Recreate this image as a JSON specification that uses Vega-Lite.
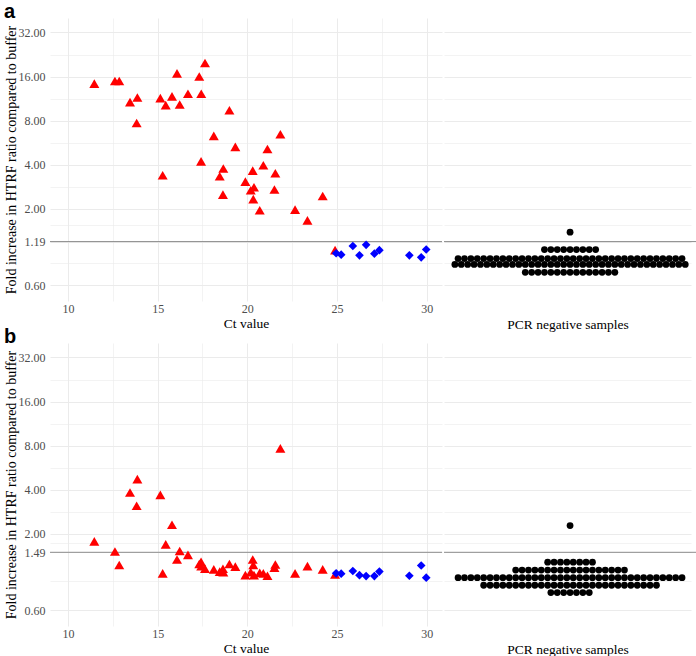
{
  "$schema": "https://vega.github.io/schema/vega-lite/v6.json",
  "padding": {"left": 3, "top": 2, "right": 0, "bottom": 0},
  "background": "white",
  "config": {
    "view": {"stroke": null},
    "axis": {
      "ticks": false, "tickSize": 0, "domain": false,
      "gridColor": "#EBEBEB",
      "labelFont": "Liberation Serif", "labelFontSize": 12, "labelColor": "#4D4D4D",
      "titleFont": "Liberation Serif", "titleFontSize": 13.5, "titleFontWeight": "normal", "titleColor": "#000000",
      "labelOverlap": false
    },
    "title": {"font": "Liberation Sans", "fontSize": 20, "fontWeight": "bold", "color": "#000000", "anchor": "start", "frame": "bounds"}
  },
  "datasets": {
    "thr": [{"panel": "a", "fold": 1.19}, {"panel": "b", "fold": 1.49}],
    "pos": [
      {"panel": "a", "ct": 11.47, "fold": 14.3, "group": "Ct < 25"},
      {"panel": "a", "ct": 12.62, "fold": 14.9, "group": "Ct < 25"},
      {"panel": "a", "ct": 12.86, "fold": 14.9, "group": "Ct < 25"},
      {"panel": "a", "ct": 13.46, "fold": 10.7, "group": "Ct < 25"},
      {"panel": "a", "ct": 13.87, "fold": 11.5, "group": "Ct < 25"},
      {"panel": "a", "ct": 13.83, "fold": 7.7, "group": "Ct < 25"},
      {"panel": "a", "ct": 15.15, "fold": 11.4, "group": "Ct < 25"},
      {"panel": "a", "ct": 15.28, "fold": 3.38, "group": "Ct < 25"},
      {"panel": "a", "ct": 15.45, "fold": 10.2, "group": "Ct < 25"},
      {"panel": "a", "ct": 15.8, "fold": 11.7, "group": "Ct < 25"},
      {"panel": "a", "ct": 16.08, "fold": 16.8, "group": "Ct < 25"},
      {"panel": "a", "ct": 16.23, "fold": 10.3, "group": "Ct < 25"},
      {"panel": "a", "ct": 16.69, "fold": 12.2, "group": "Ct < 25"},
      {"panel": "a", "ct": 17.32, "fold": 16.0, "group": "Ct < 25"},
      {"panel": "a", "ct": 17.42, "fold": 4.21, "group": "Ct < 25"},
      {"panel": "a", "ct": 17.43, "fold": 12.2, "group": "Ct < 25"},
      {"panel": "a", "ct": 17.64, "fold": 19.8, "group": "Ct < 25"},
      {"panel": "a", "ct": 18.13, "fold": 6.28, "group": "Ct < 25"},
      {"panel": "a", "ct": 18.46, "fold": 3.33, "group": "Ct < 25"},
      {"panel": "a", "ct": 18.64, "fold": 2.49, "group": "Ct < 25"},
      {"panel": "a", "ct": 18.66, "fold": 3.76, "group": "Ct < 25"},
      {"panel": "a", "ct": 19.0, "fold": 9.41, "group": "Ct < 25"},
      {"panel": "a", "ct": 19.33, "fold": 5.28, "group": "Ct < 25"},
      {"panel": "a", "ct": 19.89, "fold": 3.06, "group": "Ct < 25"},
      {"panel": "a", "ct": 20.19, "fold": 2.67, "group": "Ct < 25"},
      {"panel": "a", "ct": 20.3, "fold": 3.64, "group": "Ct < 25"},
      {"panel": "a", "ct": 20.33, "fold": 2.32, "group": "Ct < 25"},
      {"panel": "a", "ct": 20.37, "fold": 2.8, "group": "Ct < 25"},
      {"panel": "a", "ct": 20.69, "fold": 1.95, "group": "Ct < 25"},
      {"panel": "a", "ct": 20.89, "fold": 3.96, "group": "Ct < 25"},
      {"panel": "a", "ct": 21.12, "fold": 5.11, "group": "Ct < 25"},
      {"panel": "a", "ct": 21.51, "fold": 2.7, "group": "Ct < 25"},
      {"panel": "a", "ct": 21.56, "fold": 3.49, "group": "Ct < 25"},
      {"panel": "a", "ct": 21.84, "fold": 6.45, "group": "Ct < 25"},
      {"panel": "a", "ct": 22.66, "fold": 1.97, "group": "Ct < 25"},
      {"panel": "a", "ct": 23.35, "fold": 1.66, "group": "Ct < 25"},
      {"panel": "a", "ct": 24.2, "fold": 2.44, "group": "Ct < 25"},
      {"panel": "a", "ct": 24.89, "fold": 1.04, "group": "Ct < 25"},
      {"panel": "a", "ct": 24.95, "fold": 0.99, "group": "Ct ≥ 25"},
      {"panel": "a", "ct": 25.23, "fold": 0.969, "group": "Ct ≥ 25"},
      {"panel": "a", "ct": 25.88, "fold": 1.11, "group": "Ct ≥ 25"},
      {"panel": "a", "ct": 26.25, "fold": 0.958, "group": "Ct ≥ 25"},
      {"panel": "a", "ct": 26.62, "fold": 1.13, "group": "Ct ≥ 25"},
      {"panel": "a", "ct": 27.08, "fold": 0.984, "group": "Ct ≥ 25"},
      {"panel": "a", "ct": 27.36, "fold": 1.04, "group": "Ct ≥ 25"},
      {"panel": "a", "ct": 29.03, "fold": 0.958, "group": "Ct ≥ 25"},
      {"panel": "a", "ct": 29.69, "fold": 0.929, "group": "Ct ≥ 25"},
      {"panel": "a", "ct": 29.97, "fold": 1.05, "group": "Ct ≥ 25"},
      {"panel": "b", "ct": 11.47, "fold": 1.77, "group": "Ct < 25"},
      {"panel": "b", "ct": 12.62, "fold": 1.51, "group": "Ct < 25"},
      {"panel": "b", "ct": 12.86, "fold": 1.22, "group": "Ct < 25"},
      {"panel": "b", "ct": 13.46, "fold": 3.82, "group": "Ct < 25"},
      {"panel": "b", "ct": 13.87, "fold": 4.71, "group": "Ct < 25"},
      {"panel": "b", "ct": 13.83, "fold": 3.1, "group": "Ct < 25"},
      {"panel": "b", "ct": 15.15, "fold": 3.68, "group": "Ct < 25"},
      {"panel": "b", "ct": 15.28, "fold": 1.07, "group": "Ct < 25"},
      {"panel": "b", "ct": 15.45, "fold": 1.69, "group": "Ct < 25"},
      {"panel": "b", "ct": 15.8, "fold": 2.3, "group": "Ct < 25"},
      {"panel": "b", "ct": 16.08, "fold": 1.33, "group": "Ct < 25"},
      {"panel": "b", "ct": 16.23, "fold": 1.52, "group": "Ct < 25"},
      {"panel": "b", "ct": 16.69, "fold": 1.43, "group": "Ct < 25"},
      {"panel": "b", "ct": 17.32, "fold": 1.24, "group": "Ct < 25"},
      {"panel": "b", "ct": 17.42, "fold": 1.28, "group": "Ct < 25"},
      {"panel": "b", "ct": 17.43, "fold": 1.2, "group": "Ct < 25"},
      {"panel": "b", "ct": 17.64, "fold": 1.15, "group": "Ct < 25"},
      {"panel": "b", "ct": 18.13, "fold": 1.14, "group": "Ct < 25"},
      {"panel": "b", "ct": 18.46, "fold": 1.1, "group": "Ct < 25"},
      {"panel": "b", "ct": 18.64, "fold": 1.15, "group": "Ct < 25"},
      {"panel": "b", "ct": 18.66, "fold": 1.09, "group": "Ct < 25"},
      {"panel": "b", "ct": 19.0, "fold": 1.24, "group": "Ct < 25"},
      {"panel": "b", "ct": 19.33, "fold": 1.19, "group": "Ct < 25"},
      {"panel": "b", "ct": 19.89, "fold": 1.04, "group": "Ct < 25"},
      {"panel": "b", "ct": 20.19, "fold": 1.09, "group": "Ct < 25"},
      {"panel": "b", "ct": 20.3, "fold": 1.33, "group": "Ct < 25"},
      {"panel": "b", "ct": 20.33, "fold": 1.22, "group": "Ct < 25"},
      {"panel": "b", "ct": 20.37, "fold": 1.04, "group": "Ct < 25"},
      {"panel": "b", "ct": 20.69, "fold": 1.08, "group": "Ct < 25"},
      {"panel": "b", "ct": 20.89, "fold": 1.07, "group": "Ct < 25"},
      {"panel": "b", "ct": 21.12, "fold": 1.03, "group": "Ct < 25"},
      {"panel": "b", "ct": 21.51, "fold": 1.17, "group": "Ct < 25"},
      {"panel": "b", "ct": 21.56, "fold": 1.23, "group": "Ct < 25"},
      {"panel": "b", "ct": 21.84, "fold": 7.65, "group": "Ct < 25"},
      {"panel": "b", "ct": 22.66, "fold": 1.07, "group": "Ct < 25"},
      {"panel": "b", "ct": 23.35, "fold": 1.2, "group": "Ct < 25"},
      {"panel": "b", "ct": 24.2, "fold": 1.14, "group": "Ct < 25"},
      {"panel": "b", "ct": 24.89, "fold": 1.05, "group": "Ct < 25"},
      {"panel": "b", "ct": 24.95, "fold": 1.07, "group": "Ct ≥ 25"},
      {"panel": "b", "ct": 25.23, "fold": 1.065, "group": "Ct ≥ 25"},
      {"panel": "b", "ct": 25.88, "fold": 1.11, "group": "Ct ≥ 25"},
      {"panel": "b", "ct": 26.25, "fold": 1.04, "group": "Ct ≥ 25"},
      {"panel": "b", "ct": 26.62, "fold": 1.025, "group": "Ct ≥ 25"},
      {"panel": "b", "ct": 27.08, "fold": 1.025, "group": "Ct ≥ 25"},
      {"panel": "b", "ct": 27.36, "fold": 1.1, "group": "Ct ≥ 25"},
      {"panel": "b", "ct": 29.03, "fold": 1.03, "group": "Ct ≥ 25"},
      {"panel": "b", "ct": 29.69, "fold": 1.21, "group": "Ct ≥ 25"},
      {"panel": "b", "ct": 29.97, "fold": 1.0, "group": "Ct ≥ 25"}
    ],
    "neg": [
      {"panel": "a", "fold": 1.38},
      {"panel": "a", "fold": 1.05}, {"panel": "a", "fold": 1.05}, {"panel": "a", "fold": 1.05}, {"panel": "a", "fold": 1.05}, {"panel": "a", "fold": 1.05}, {"panel": "a", "fold": 1.05}, {"panel": "a", "fold": 1.05}, {"panel": "a", "fold": 1.05}, {"panel": "a", "fold": 1.05},
      {"panel": "a", "fold": 0.91}, {"panel": "a", "fold": 0.91}, {"panel": "a", "fold": 0.91}, {"panel": "a", "fold": 0.91}, {"panel": "a", "fold": 0.91}, {"panel": "a", "fold": 0.91}, {"panel": "a", "fold": 0.91}, {"panel": "a", "fold": 0.91}, {"panel": "a", "fold": 0.91}, {"panel": "a", "fold": 0.91},
      {"panel": "a", "fold": 0.91}, {"panel": "a", "fold": 0.91}, {"panel": "a", "fold": 0.91}, {"panel": "a", "fold": 0.91}, {"panel": "a", "fold": 0.91}, {"panel": "a", "fold": 0.91}, {"panel": "a", "fold": 0.91}, {"panel": "a", "fold": 0.91}, {"panel": "a", "fold": 0.91}, {"panel": "a", "fold": 0.91},
      {"panel": "a", "fold": 0.91}, {"panel": "a", "fold": 0.91}, {"panel": "a", "fold": 0.91}, {"panel": "a", "fold": 0.91}, {"panel": "a", "fold": 0.91}, {"panel": "a", "fold": 0.91}, {"panel": "a", "fold": 0.91}, {"panel": "a", "fold": 0.91}, {"panel": "a", "fold": 0.91}, {"panel": "a", "fold": 0.91},
      {"panel": "a", "fold": 0.91}, {"panel": "a", "fold": 0.91}, {"panel": "a", "fold": 0.91}, {"panel": "a", "fold": 0.91}, {"panel": "a", "fold": 0.91}, {"panel": "a", "fold": 0.91},
      {"panel": "a", "fold": 0.83}, {"panel": "a", "fold": 0.83}, {"panel": "a", "fold": 0.83}, {"panel": "a", "fold": 0.83}, {"panel": "a", "fold": 0.83}, {"panel": "a", "fold": 0.83}, {"panel": "a", "fold": 0.83}, {"panel": "a", "fold": 0.83}, {"panel": "a", "fold": 0.83}, {"panel": "a", "fold": 0.83},
      {"panel": "a", "fold": 0.83}, {"panel": "a", "fold": 0.83}, {"panel": "a", "fold": 0.83}, {"panel": "a", "fold": 0.83}, {"panel": "a", "fold": 0.83}, {"panel": "a", "fold": 0.83}, {"panel": "a", "fold": 0.83}, {"panel": "a", "fold": 0.83}, {"panel": "a", "fold": 0.83}, {"panel": "a", "fold": 0.83},
      {"panel": "a", "fold": 0.83}, {"panel": "a", "fold": 0.83}, {"panel": "a", "fold": 0.83}, {"panel": "a", "fold": 0.83}, {"panel": "a", "fold": 0.83}, {"panel": "a", "fold": 0.83}, {"panel": "a", "fold": 0.83}, {"panel": "a", "fold": 0.83}, {"panel": "a", "fold": 0.83}, {"panel": "a", "fold": 0.83},
      {"panel": "a", "fold": 0.83}, {"panel": "a", "fold": 0.83}, {"panel": "a", "fold": 0.83}, {"panel": "a", "fold": 0.83}, {"panel": "a", "fold": 0.83}, {"panel": "a", "fold": 0.83}, {"panel": "a", "fold": 0.83},
      {"panel": "a", "fold": 0.733}, {"panel": "a", "fold": 0.733}, {"panel": "a", "fold": 0.733}, {"panel": "a", "fold": 0.733}, {"panel": "a", "fold": 0.733}, {"panel": "a", "fold": 0.733}, {"panel": "a", "fold": 0.733}, {"panel": "a", "fold": 0.733}, {"panel": "a", "fold": 0.733}, {"panel": "a", "fold": 0.733},
      {"panel": "a", "fold": 0.733}, {"panel": "a", "fold": 0.733}, {"panel": "a", "fold": 0.733}, {"panel": "a", "fold": 0.733}, {"panel": "a", "fold": 0.733},
      {"panel": "b", "fold": 2.27},
      {"panel": "b", "fold": 1.276}, {"panel": "b", "fold": 1.276}, {"panel": "b", "fold": 1.276}, {"panel": "b", "fold": 1.276}, {"panel": "b", "fold": 1.276}, {"panel": "b", "fold": 1.276}, {"panel": "b", "fold": 1.276}, {"panel": "b", "fold": 1.276},
      {"panel": "b", "fold": 1.126}, {"panel": "b", "fold": 1.126}, {"panel": "b", "fold": 1.126}, {"panel": "b", "fold": 1.126}, {"panel": "b", "fold": 1.126}, {"panel": "b", "fold": 1.126}, {"panel": "b", "fold": 1.126}, {"panel": "b", "fold": 1.126}, {"panel": "b", "fold": 1.126}, {"panel": "b", "fold": 1.126},
      {"panel": "b", "fold": 1.126}, {"panel": "b", "fold": 1.126}, {"panel": "b", "fold": 1.126}, {"panel": "b", "fold": 1.126}, {"panel": "b", "fold": 1.126}, {"panel": "b", "fold": 1.126}, {"panel": "b", "fold": 1.126}, {"panel": "b", "fold": 1.126},
      {"panel": "b", "fold": 1.0}, {"panel": "b", "fold": 1.0}, {"panel": "b", "fold": 1.0}, {"panel": "b", "fold": 1.0}, {"panel": "b", "fold": 1.0}, {"panel": "b", "fold": 1.0}, {"panel": "b", "fold": 1.0}, {"panel": "b", "fold": 1.0}, {"panel": "b", "fold": 1.0}, {"panel": "b", "fold": 1.0},
      {"panel": "b", "fold": 1.0}, {"panel": "b", "fold": 1.0}, {"panel": "b", "fold": 1.0}, {"panel": "b", "fold": 1.0}, {"panel": "b", "fold": 1.0}, {"panel": "b", "fold": 1.0}, {"panel": "b", "fold": 1.0}, {"panel": "b", "fold": 1.0}, {"panel": "b", "fold": 1.0}, {"panel": "b", "fold": 1.0},
      {"panel": "b", "fold": 1.0}, {"panel": "b", "fold": 1.0}, {"panel": "b", "fold": 1.0}, {"panel": "b", "fold": 1.0}, {"panel": "b", "fold": 1.0}, {"panel": "b", "fold": 1.0}, {"panel": "b", "fold": 1.0}, {"panel": "b", "fold": 1.0}, {"panel": "b", "fold": 1.0}, {"panel": "b", "fold": 1.0},
      {"panel": "b", "fold": 1.0}, {"panel": "b", "fold": 1.0}, {"panel": "b", "fold": 1.0}, {"panel": "b", "fold": 1.0}, {"panel": "b", "fold": 1.0}, {"panel": "b", "fold": 1.0},
      {"panel": "b", "fold": 0.887}, {"panel": "b", "fold": 0.887}, {"panel": "b", "fold": 0.887}, {"panel": "b", "fold": 0.887}, {"panel": "b", "fold": 0.887}, {"panel": "b", "fold": 0.887}, {"panel": "b", "fold": 0.887}, {"panel": "b", "fold": 0.887}, {"panel": "b", "fold": 0.887}, {"panel": "b", "fold": 0.887},
      {"panel": "b", "fold": 0.887}, {"panel": "b", "fold": 0.887}, {"panel": "b", "fold": 0.887}, {"panel": "b", "fold": 0.887}, {"panel": "b", "fold": 0.887}, {"panel": "b", "fold": 0.887}, {"panel": "b", "fold": 0.887}, {"panel": "b", "fold": 0.887}, {"panel": "b", "fold": 0.887}, {"panel": "b", "fold": 0.887},
      {"panel": "b", "fold": 0.887}, {"panel": "b", "fold": 0.887}, {"panel": "b", "fold": 0.887}, {"panel": "b", "fold": 0.887}, {"panel": "b", "fold": 0.887}, {"panel": "b", "fold": 0.887}, {"panel": "b", "fold": 0.887}, {"panel": "b", "fold": 0.887},
      {"panel": "b", "fold": 0.79}, {"panel": "b", "fold": 0.79}, {"panel": "b", "fold": 0.79}, {"panel": "b", "fold": 0.79}, {"panel": "b", "fold": 0.79}, {"panel": "b", "fold": 0.79}, {"panel": "b", "fold": 0.79}
    ]
  },
  "vconcat": [
    {
      "title": {"text": "a", "offset": -20, "baseline": "alphabetic"},
      "spacing": 0,
      "hconcat": [
        {
          "width": 392, "height": 283,
          "encoding": {
            "y": {"field": "fold", "type": "quantitative",
              "scale": {"type": "log", "base": 2, "domain": [0.467, 40.2], "nice": false},
              "axis": {"title": "Fold increase in HTRF ratio compared to buffer", "titleFontSize": 14,
                "values": [0.6, 0.845, 1.19, 1.543, 2, 2.828, 4, 5.657, 8, 11.314, 16, 22.627, 32],
                "labelExpr": "indexof([0.6,1.19,2,4,8,16,32], datum.value) >= 0 ? format(datum.value, '.2f') : ''",
                "gridWidth": {"condition": {"test": "indexof([0.6,1.19,2,4,8,16,32], datum.value) >= 0", "value": 1}, "value": 0.6},
                "labelPadding": 5, "titlePadding": 0}}
          },
          "layer": [
            {"data": {"name": "thr"}, "transform": [{"filter": "datum.panel === 'a'"}],
             "mark": {"type": "rule", "color": "#8C8C8C", "strokeWidth": 1}, "encoding": {}},
            {"data": {"name": "pos"}, "transform": [{"filter": "datum.panel === 'a'"}],
             "mark": {"type": "point", "filled": true, "opacity": 1, "strokeWidth": 0},
             "encoding": {
               "x": {"field": "ct", "type": "quantitative",
                 "scale": {"domain": [9.0, 30.85], "nice": false, "zero": false},
                 "axis": {"title": "Ct value", "values": [10, 12.5, 15, 17.5, 20, 22.5, 25, 27.5, 30],
                   "labelExpr": "datum.value % 5 === 0 ? format(datum.value, 'd') : ''",
                   "gridWidth": {"condition": {"test": "datum.value % 5 === 0", "value": 1}, "value": 0.6},
                   "labelPadding": 2, "titlePadding": 2}},
               "shape": {"field": "group", "type": "nominal", "scale": {"domain": ["Ct < 25", "Ct ≥ 25"], "range": ["triangle-up", "diamond"]}, "legend": null},
               "color": {"field": "group", "type": "nominal", "scale": {"domain": ["Ct < 25", "Ct ≥ 25"], "range": ["#FF0000", "#0000FF"]}, "legend": null},
               "size": {"field": "group", "type": "nominal", "scale": {"domain": ["Ct < 25", "Ct ≥ 25"], "range": [100, 75]}, "legend": null}
             }}
          ]
        },
        {
          "width": 247, "height": 283,
          "encoding": {
            "y": {"field": "fold", "type": "quantitative",
              "scale": {"type": "log", "base": 2, "domain": [0.467, 40.2], "nice": false},
              "axis": {"title": null, "labels": false,
                "values": [0.6, 0.845, 1.19, 1.543, 2, 2.828, 4, 5.657, 8, 11.314, 16, 22.627, 32],
                "gridWidth": {"condition": {"test": "indexof([0.6,1.19,2,4,8,16,32], datum.value) >= 0", "value": 1}, "value": 0.6}}}
          },
          "layer": [
            {"data": {"name": "thr"}, "transform": [{"filter": "datum.panel === 'a'"}],
             "mark": {"type": "rule", "color": "#8C8C8C", "strokeWidth": 1, "clip": false},
             "encoding": {"x": {"datum": -19.7}, "x2": {"datum": 20.0}}},
            {"data": {"name": "neg"},
             "transform": [
               {"filter": "datum.panel === 'a'"},
               {"joinaggregate": [{"op": "count", "as": "n"}], "groupby": ["fold"]},
               {"window": [{"op": "row_number", "as": "k"}], "groupby": ["fold"]},
               {"calculate": "datum.k - (datum.n + 1) / 2", "as": "slot"}
             ],
             "mark": {"type": "circle", "color": "#000000", "opacity": 1, "size": 46},
             "encoding": {
               "x": {"field": "slot", "type": "quantitative",
                 "scale": {"domain": [-19.7, 18.9], "nice": false, "zero": false},
                 "axis": {"title": "PCR negative samples", "values": [0], "labels": false, "gridWidth": 1, "titlePadding": 16}}
             }},
            {"mark": {"type": "rule", "color": "#000000", "strokeWidth": 1.3, "clip": false},
             "encoding": {"x": {"datum": -19.7}, "y": {"datum": 0.33}, "y2": {"datum": 40.2}}}
          ]
        }
      ]
    },
    {
      "title": {"text": "b", "offset": -20, "baseline": "alphabetic"},
      "spacing": 0,
      "hconcat": [
        {
          "width": 392, "height": 283,
          "encoding": {
            "y": {"field": "fold", "type": "quantitative",
              "scale": {"type": "log", "base": 2, "domain": [0.467, 40.2], "nice": false},
              "axis": {"title": "Fold increase in HTRF ratio compared to buffer", "titleFontSize": 14,
                "values": [0.6, 0.9455, 1.49, 1.726, 2, 2.828, 4, 5.657, 8, 11.314, 16, 22.627, 32],
                "labelExpr": "indexof([0.6,1.49,2,4,8,16,32], datum.value) >= 0 ? format(datum.value, '.2f') : ''",
                "gridWidth": {"condition": {"test": "indexof([0.6,1.49,2,4,8,16,32], datum.value) >= 0", "value": 1}, "value": 0.6},
                "labelPadding": 5, "titlePadding": 0}}
          },
          "layer": [
            {"data": {"name": "thr"}, "transform": [{"filter": "datum.panel === 'b'"}],
             "mark": {"type": "rule", "color": "#8C8C8C", "strokeWidth": 1}, "encoding": {}},
            {"data": {"name": "pos"}, "transform": [{"filter": "datum.panel === 'b'"}],
             "mark": {"type": "point", "filled": true, "opacity": 1, "strokeWidth": 0},
             "encoding": {
               "x": {"field": "ct", "type": "quantitative",
                 "scale": {"domain": [9.0, 30.85], "nice": false, "zero": false},
                 "axis": {"title": "Ct value", "values": [10, 12.5, 15, 17.5, 20, 22.5, 25, 27.5, 30],
                   "labelExpr": "datum.value % 5 === 0 ? format(datum.value, 'd') : ''",
                   "gridWidth": {"condition": {"test": "datum.value % 5 === 0", "value": 1}, "value": 0.6},
                   "labelPadding": 2, "titlePadding": 2}},
               "shape": {"field": "group", "type": "nominal", "scale": {"domain": ["Ct < 25", "Ct ≥ 25"], "range": ["triangle-up", "diamond"]}, "legend": null},
               "color": {"field": "group", "type": "nominal", "scale": {"domain": ["Ct < 25", "Ct ≥ 25"], "range": ["#FF0000", "#0000FF"]}, "legend": null},
               "size": {"field": "group", "type": "nominal", "scale": {"domain": ["Ct < 25", "Ct ≥ 25"], "range": [100, 75]}, "legend": null}
             }}
          ]
        },
        {
          "width": 247, "height": 283,
          "encoding": {
            "y": {"field": "fold", "type": "quantitative",
              "scale": {"type": "log", "base": 2, "domain": [0.467, 40.2], "nice": false},
              "axis": {"title": null, "labels": false,
                "values": [0.6, 0.9455, 1.49, 1.726, 2, 2.828, 4, 5.657, 8, 11.314, 16, 22.627, 32],
                "gridWidth": {"condition": {"test": "indexof([0.6,1.49,2,4,8,16,32], datum.value) >= 0", "value": 1}, "value": 0.6}}}
          },
          "layer": [
            {"data": {"name": "thr"}, "transform": [{"filter": "datum.panel === 'b'"}],
             "mark": {"type": "rule", "color": "#8C8C8C", "strokeWidth": 1, "clip": false},
             "encoding": {"x": {"datum": -19.7}, "x2": {"datum": 20.0}}},
            {"data": {"name": "neg"},
             "transform": [
               {"filter": "datum.panel === 'b'"},
               {"joinaggregate": [{"op": "count", "as": "n"}], "groupby": ["fold"]},
               {"window": [{"op": "row_number", "as": "k"}], "groupby": ["fold"]},
               {"calculate": "datum.k - (datum.n + 1) / 2", "as": "slot"}
             ],
             "mark": {"type": "circle", "color": "#000000", "opacity": 1, "size": 46},
             "encoding": {
               "x": {"field": "slot", "type": "quantitative",
                 "scale": {"domain": [-19.7, 18.9], "nice": false, "zero": false},
                 "axis": {"title": "PCR negative samples", "values": [0], "labels": false, "gridWidth": 1, "titlePadding": 16}}
             }},
            {"mark": {"type": "rule", "color": "#000000", "strokeWidth": 1.3, "clip": false},
             "encoding": {"x": {"datum": -19.7}, "y": {"datum": 0.33}, "y2": {"datum": 40.2}}}
          ]
        }
      ]
    }
  ],
  "spacing": -4
}
